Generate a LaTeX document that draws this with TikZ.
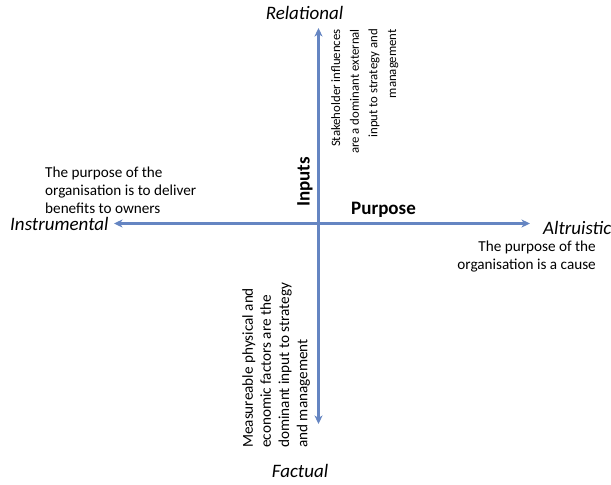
\documentclass[tikz,border=0pt]{standalone}
\usepackage{fontspec}
\setmainfont{Carlito}
\usetikzlibrary{arrows.meta}
\definecolor{axisblue}{HTML}{6585C2}
\tikzset{
  axis/.style={draw=axisblue, line width=2.3pt, {Stealth[length=8.5pt,width=8pt,inset=2.5pt]}-{Stealth[length=8.5pt,width=8pt,inset=2.5pt]}},
  pole/.style={font=\fontsize{19}{22}\selectfont\itshape, inner sep=0pt},
  dimension/.style={font=\fontsize{19}{22}\selectfont\bfseries, inner sep=0pt},
  note/.style={font=\fontsize{15.2}{18.2}\selectfont, inner sep=0pt},
  smallnote/.style={font=\fontsize{12.8}{18.7}\selectfont, inner sep=0pt},
}
\begin{document}
\begin{tikzpicture}[x=1pt,y=-1pt]
\useasboundingbox (0,0) rectangle (611,485);
% axis end points
\coordinate (top) at (318.5,28);
\coordinate (bottom) at (318.5,424);
\coordinate (left) at (114,223.5);
\coordinate (right) at (530,223.5);
\draw[axis] (top) -- (bottom);
\draw[axis] (left) -- (right);
% poles
\node[pole] (relational) at (304.5,13) {Relational};
\node[pole] (factual) at (300,471) {Factual};
\node[pole, anchor=west] (instrumental) at (10,224) {Instrumental};
\node[pole, anchor=west] (altruistic) at (543,228) {Altruistic};
% dimension labels
\node[dimension, rotate=90] (inputs) at (305,182) {Inputs};
\node[dimension] (purpose) at (383.5,210) {Purpose};
% descriptions
\node[note, align=left, anchor=west] (instdesc) at (45,190) {The purpose of the\\organisation is to deliver\\benefits to owners};
\node[note, align=right, anchor=east] (altdesc) at (596,256.5) {The purpose of the\\organisation is a cause};
\node[smallnote, align=right, rotate=90, anchor=north east] (reldesc) at (331,29) {Stakeholder influences\\are a dominant external\\input to strategy and\\management};
\node[note, align=left, rotate=90, anchor=north west] (factdesc) at (242,448) {Measureable physical and\\economic factors are the\\dominant input to strategy\\and management};
\end{tikzpicture}
\end{document}
